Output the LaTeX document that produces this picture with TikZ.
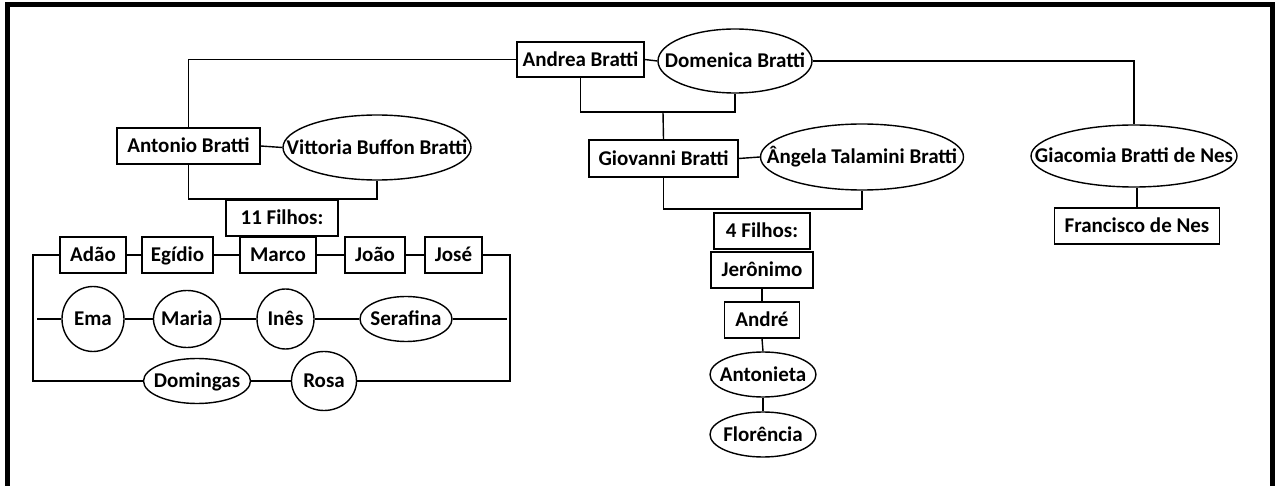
\documentclass[tikz,border=0pt]{standalone}
\usepackage{fontspec}
\setmainfont{Carlito}
\usetikzlibrary{shapes.geometric}
\begin{document}
\begin{tikzpicture}[x=1pt,y=-1pt,
  every node/.style={font=\fontsize{21}{24}\selectfont\bfseries, inner sep=0pt, text height=17pt, text depth=3pt},
  box/.style={draw, rectangle, line width=1.4pt},
  oval/.style={draw, ellipse, line width=1.4pt},
  link/.style={line width=1.4pt}]
\useasboundingbox (0,0) rectangle (1278,486);
\draw[line width=5pt] (7.5,492) -- (7.5,4.5) -- (1272.5,4.5) -- (1272.5,492);

% generation 1
\node[box, minimum width=127pt, minimum height=35pt] (andrea) at (580.5,59.5) {Andrea Bratti};
\node[oval, minimum width=154pt, minimum height=64pt, label=center:{Domenica Bratti}] (domenica) at (735,61) {};

% generation 2
\node[box, minimum width=143pt, minimum height=36pt] (antonio) at (188.5,146) {Antonio Bratti};
\node[oval, minimum width=188pt, minimum height=65pt, label=center:{Vittoria Buffon Bratti}] (vittoria) at (377,147.5) {};
\node[box, minimum width=149pt, minimum height=37pt] (giovanni) at (663.5,158.5) {Giovanni Bratti};
\node[oval, minimum width=203pt, minimum height=66pt, label=center:{Ângela Talamini Bratti}] (angela) at (862,157) {};
\node[oval, minimum width=206pt, minimum height=62pt, label=center:{Giacomia Bratti de Nes}] (giacomia) at (1134,156) {};
\node[box, minimum width=165pt, minimum height=36pt] (francisco) at (1137,226) {Francisco de Nes};

% Antonio's children
\node[box, minimum width=112pt, minimum height=36pt] (filhosA) at (282,218) {11 Filhos:};
\node[box, minimum width=66pt, minimum height=36pt] (adao) at (93,255) {Adão};
\node[box, minimum width=71pt, minimum height=36pt] (egidio) at (177.5,255) {Egídio};
\node[box, minimum width=76pt, minimum height=36pt] (marco) at (278,255) {Marco};
\node[box, minimum width=60pt, minimum height=36pt] (joao) at (375,255) {João};
\node[box, minimum width=57pt, minimum height=36pt] (jose) at (453.5,255) {José};
\node[oval, minimum width=62pt, minimum height=65pt, label=center:{Ema}] (ema) at (93,319) {};
\node[oval, minimum width=67pt, minimum height=57pt, label=center:{Maria}] (maria) at (187,319) {};
\node[oval, minimum width=57pt, minimum height=60pt, label=center:{Inês}] (ines) at (285.5,319) {};
\node[oval, minimum width=92pt, minimum height=45pt, label=center:{Serafina}] (serafina) at (406,319) {};
\node[oval, minimum width=107pt, minimum height=45pt, label=center:{Domingas}] (domingas) at (197,381) {};
\node[oval, minimum width=65pt, minimum height=59pt, label=center:{Rosa}] (rosa) at (324,381) {};

% Giovanni's children
\node[box, minimum width=96pt, minimum height=36pt] (filhosG) at (762,231) {4 Filhos:};
\node[box, minimum width=102pt, minimum height=36pt] (jeronimo) at (762,270) {Jerônimo};
\node[box, minimum width=75pt, minimum height=36pt] (andre) at (762,320) {André};
\node[oval, minimum width=106pt, minimum height=45pt, label=center:{Antonieta}] (antonieta) at (763,374.5) {};
\node[oval, minimum width=106pt, minimum height=45pt, label=center:{Florência}] (florencia) at (763,434.5) {};

% couples and descent
\draw[link] (andrea.east) -- (domenica.west);
\draw[link] (andrea.west) -| (antonio.north);
\draw[link] (domenica.east) -| (giacomia.north);
\coordinate (j1) at (663,112);
\draw[link] (andrea.south) |- (j1) -| (domenica.south);
\draw[link] (j1) -- (giovanni.north);
\draw[link] (antonio.east) -- (vittoria.west);
\coordinate (j2) at (282,199);
\draw[link] (antonio.south) |- (j2) -| (vittoria.south);
\draw[link] (giovanni.east) -- (angela.west);
\coordinate (j3) at (762,209);
\draw[link] (giovanni.south) |- (j3) -| (angela.south);
\draw[link] (francisco.north) -- (francisco.north |- giacomia.south);

% Antonio's children frame
\coordinate (L1) at (33,255);
\coordinate (L2) at (37,319);
\coordinate (L3) at (33,381);
\coordinate (R1) at (510,255);
\coordinate (R2) at (507,319);
\coordinate (R3) at (510,381);
\draw[link] (adao.west) -- (L1) -- (L3) -- (domingas.west);
\draw[link] (adao.east) -- (egidio.west);
\draw[link] (egidio.east) -- (marco.west);
\draw[link] (marco.east) -- (joao.west);
\draw[link] (joao.east) -- (jose.west);
\draw[link] (jose.east) -- (R1) -- (R3) -- (rosa.east);
\draw[link] (domingas.east) -- (rosa.west);
\draw[link] (L2) -- (ema.west);
\draw[link] (ema.east) -- (maria.west);
\draw[link] (maria.east) -- (ines.west);
\draw[link] (ines.east) -- (serafina.west);
\draw[link] (serafina.east) -- (R2);

% Giovanni's children chain
\draw[link] (jeronimo.south) -- (andre.north);
\draw[link] (andre.south) -- (antonieta.north);
\draw[link] (antonieta.south) -- (florencia.north);
\end{tikzpicture}
\end{document}
